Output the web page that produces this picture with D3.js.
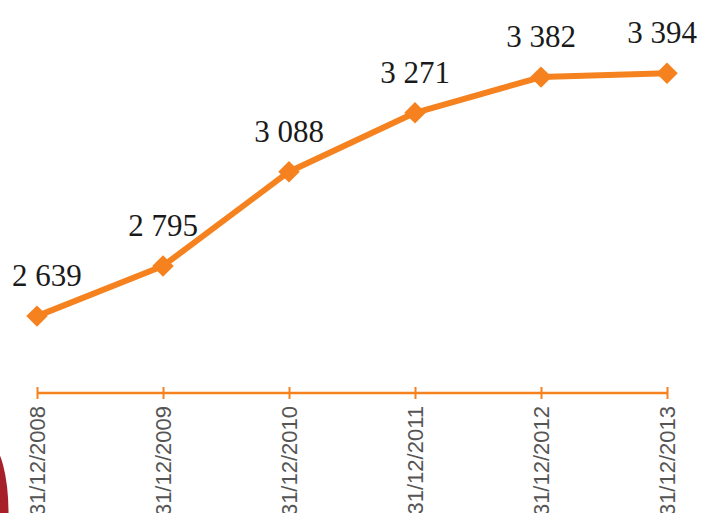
<!DOCTYPE html>
<html>
<head>
<meta charset="utf-8">
<script src="https://cdn.jsdelivr.net/npm/d3@7"></script>
<style>
  body { margin: 0; background: #fff; overflow: hidden; }
  svg { display: block; }
</style>
</head>
<body>
<svg id="chart" width="701" height="513"></svg>
<script>
// values
let dates = ["31/12/2008", "31/12/2009", "31/12/2010", "31/12/2011", "31/12/2012", "31/12/2013"];
let values = [2639, 2795, 3088, 3271, 3382, 3394];

let orange = "#F5821F";
let svg = d3.select("#chart");

let fmt = (v) => d3.format(",")(v).replace(/,/g, " ");

let x = d3.scalePoint().domain(dates).range([37, 667]);
let y = d3.scaleLinear().domain([2400, 3600]).range([393, 7]);

// red shape peeking in at the bottom left
svg.append("ellipse")
    .attr("cx", -10).attr("cy", 513)
    .attr("rx", 18.5).attr("ry", 68)
    .style("fill", "#A71F28");

// x axis, ticks cross the line
let axis = d3.axisBottom(x).tickSizeInner(6).tickSizeOuter(0).tickPadding(0);
let gx = svg.append("g")
    .attr("transform", `translate(0,${y(2400)})`)
    .call(axis);
gx.select(".domain").remove();
gx.append("line")
    .attr("x1", x(dates[0])).attr("x2", x(dates[dates.length - 1]))
    .style("stroke", orange).style("stroke-width", 2.5);
gx.selectAll(".tick line")
    .attr("y1", -6).attr("y2", 6)
    .style("stroke", orange).style("stroke-width", 2);
gx.selectAll(".tick text")
    .attr("transform", "rotate(-90)")
    .attr("x", -13).attr("y", 0).attr("dy", "0.36em")
    .attr("text-anchor", "end")
    .style("font-family", "'Liberation Sans', Arial, sans-serif")
    .style("font-size", "22px")
    .style("fill", "#555");

// line
let line = d3.line()
    .x((d, i) => x(dates[i]))
    .y((d) => y(d));

svg.append("path")
    .datum(values)
    .attr("d", line)
    .style("fill", "none")
    .style("stroke", orange)
    .style("stroke-width", 6)
    .style("stroke-linejoin", "round");

// markers
let diamond = d3.symbol().type(d3.symbolSquare).size(230);
svg.selectAll(".marker")
    .data(values)
    .enter().append("path")
    .attr("class", "marker")
    .attr("d", diamond)
    .attr("transform", (d, i) => `translate(${x(dates[i])},${y(d)}) rotate(45)`)
    .style("fill", orange);

// value labels, kept inside the picture
svg.selectAll(".label")
    .data(values)
    .enter().append("text")
    .attr("class", "label")
    .text((d) => fmt(d))
    .attr("y", (d) => y(d) - 30)
    .attr("text-anchor", "middle")
    .style("font-family", "'Liberation Serif', 'Times New Roman', serif")
    .style("font-size", "31px")
    .style("fill", "#1a1a1a")
    .each(function(d, i){
        let w = this.getComputedTextLength();
        let cx = x(dates[i]);
        cx = Math.max(12 + w / 2, Math.min(697 - w / 2, cx));
        d3.select(this).attr("x", cx);
    });
</script>
</body>
</html>
